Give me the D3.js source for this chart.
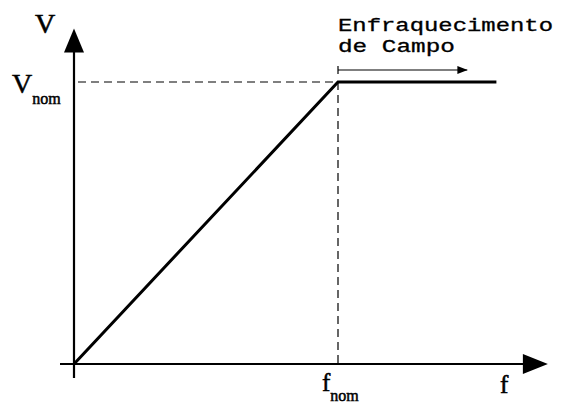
<!DOCTYPE html>
<html><head><meta charset="utf-8">
<script src="https://cdn.jsdelivr.net/npm/d3@7"></script>
<style>html,body{margin:0;padding:0;background:#fff;}svg{display:block;}</style>
</head><body>
<script>
// Data
const freq = [0, 1, 1.6];          // f / f_nom
const volt = [0, 1, 1];            // V / V_nom
const tickF = [{v: 1, main: "f", sub: "nom"}];
const tickV = [{v: 1, main: "V", sub: "nom"}];
const axisLabels = {x: "f", y: "V"};
const regionLabel = ["Enfraquecimento", "de Campo"];
const regionRange = [1, 1.49];

const W = 561, H = 403;
const svg = d3.select("body").append("svg").attr("width", W).attr("height", H);
const x = d3.scaleLinear().domain([0, 1]).range([74, 338]);
const y = d3.scaleLinear().domain([0, 1]).range([364, 82]);

const defs = svg.append("defs");
defs.append("marker").attr("id", "ah").attr("viewBox", "0 0 10 10").attr("refX", 10).attr("refY", 5)
  .attr("markerWidth", 10).attr("markerHeight", 10).attr("markerUnits", "userSpaceOnUse").attr("orient", "auto")
  .append("path").attr("d", "M0,1 L10,5 L0,9 Z").attr("fill", "#000");

const serif = "'Liberation Serif','DejaVu Serif',serif";
const mono = "'Liberation Mono','DejaVu Sans Mono',monospace";

// Axes
const xEnd = x(1.795), yTop = y(1.19);
svg.append("line").attr("x1", 60).attr("x2", xEnd - 20).attr("y1", y(0)).attr("y2", y(0))
  .attr("stroke", "#000").attr("stroke-width", 2.2);
svg.append("path").attr("d", `M${xEnd},${y(0)} L${xEnd-25},${y(0)-10} L${xEnd-25},${y(0)+10} Z`).attr("fill", "#000");
svg.append("line").attr("x1", x(0)).attr("x2", x(0)).attr("y1", 378).attr("y2", yTop + 20)
  .attr("stroke", "#000").attr("stroke-width", 2.2);
svg.append("path").attr("d", `M${x(0)},${yTop} L${x(0)-10},${yTop+24} L${x(0)+10},${yTop+24} Z`).attr("fill", "#000");

// Dashed guides
svg.append("line").attr("x1", x(0) + 4).attr("x2", x(1)).attr("y1", y(1)).attr("y2", y(1))
  .attr("stroke", "#000").attr("stroke-width", 1.2).attr("stroke-dasharray", "8,5");
svg.append("line").attr("x1", x(1)).attr("x2", x(1)).attr("y1", y(1)).attr("y2", y(0))
  .attr("stroke", "#000").attr("stroke-width", 1.2).attr("stroke-dasharray", "8,5");

// Main curve
const line = d3.line().x((d, i) => x(freq[i])).y((d, i) => y(volt[i]));
svg.append("path").datum(freq).attr("d", line).attr("fill", "none")
  .attr("stroke", "#000").attr("stroke-width", 3).attr("stroke-linejoin", "miter");

// Region arrow
const ry = 70;
svg.append("line").attr("x1", x(regionRange[0])).attr("x2", x(regionRange[1])).attr("y1", ry).attr("y2", ry)
  .attr("stroke", "#000").attr("stroke-width", 1.2).attr("marker-end", "url(#ah)");
svg.append("line").attr("x1", x(regionRange[0])).attr("x2", x(regionRange[0])).attr("y1", ry - 4).attr("y2", ry + 4)
  .attr("stroke", "#000").attr("stroke-width", 1.2);

// Region text
svg.append("text").attr("x", x(1)).attr("y", 31).attr("font-family", mono).attr("font-size", 18)
  .attr("stroke", "#000").attr("stroke-width", 0.3)
  .attr("textLength", 215).attr("lengthAdjust", "spacingAndGlyphs").text(regionLabel[0]);
svg.append("text").attr("x", x(1)).attr("y", 52).attr("font-family", mono).attr("font-size", 18)
  .attr("stroke", "#000").attr("stroke-width", 0.3)
  .attr("textLength", 117).attr("lengthAdjust", "spacingAndGlyphs").text(regionLabel[1]);

// Axis labels
svg.append("text").attr("x", 35).attr("y", 33).attr("font-family", serif).attr("font-size", 28)
  .attr("stroke", "#000").attr("stroke-width", 0.6).text(axisLabels.y);
svg.append("text").attr("x", 500).attr("y", 393).attr("font-family", serif).attr("font-size", 25)
  .attr("stroke", "#000").attr("stroke-width", 0.6).text(axisLabels.x);

// Tick labels
tickV.forEach(t => {
  const g = svg.append("text").attr("x", 12).attr("y", y(t.v) + 11).attr("font-family", serif)
    .attr("stroke", "#000").attr("stroke-width", 0.5);
  g.append("tspan").attr("font-size", 28).text(t.main);
  g.append("tspan").attr("font-size", 16).attr("dy", 11).text(t.sub);
});
tickF.forEach(t => {
  const g = svg.append("text").attr("x", x(t.v) - 16).attr("y", 391).attr("font-family", serif)
    .attr("stroke", "#000").attr("stroke-width", 0.5);
  g.append("tspan").attr("font-size", 25).text(t.main);
  g.append("tspan").attr("font-size", 16).attr("dy", 10).text(t.sub);
});
</script>
</body></html>
